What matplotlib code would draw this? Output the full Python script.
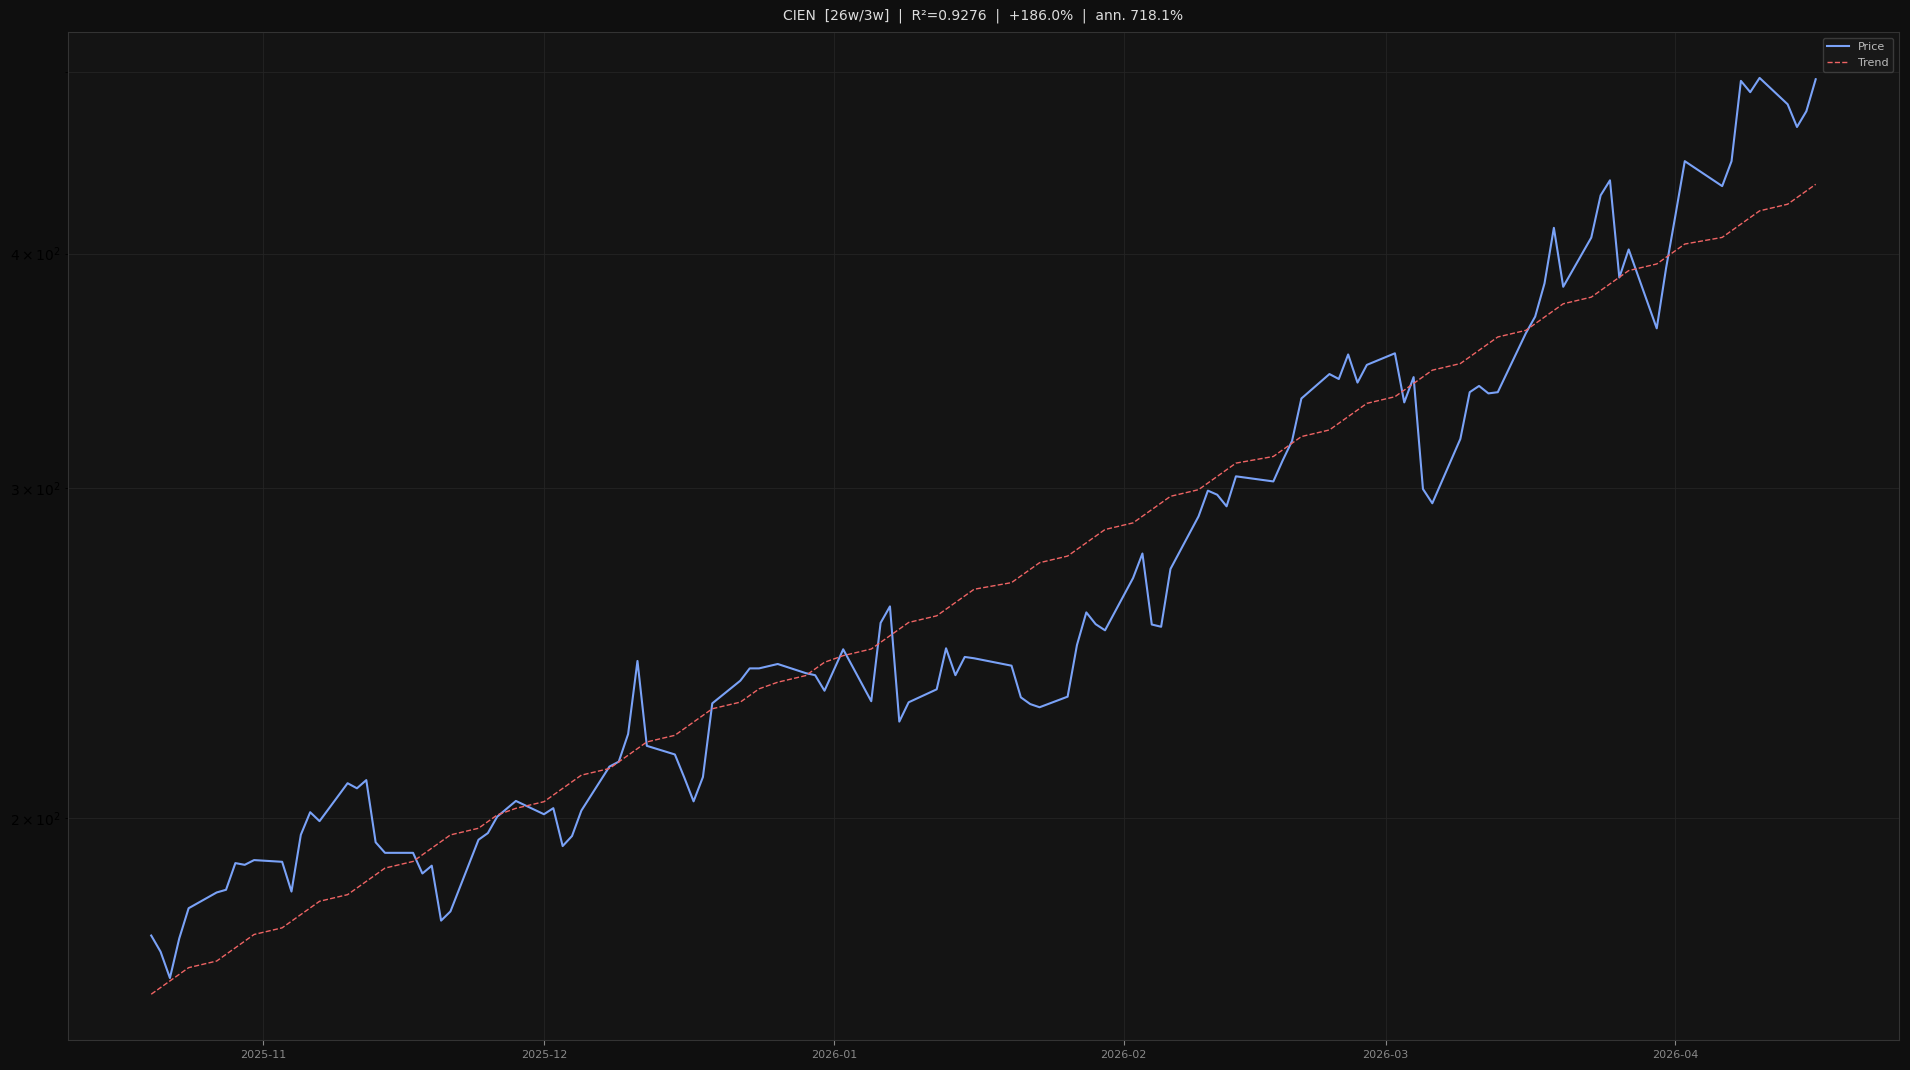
import numpy as np
import pandas as pd
import matplotlib
matplotlib.use('Agg')
import matplotlib.pyplot as plt

# trading calendar (US market holidays removed)
holidays = ['2025-11-27', '2025-12-25', '2026-01-01', '2026-01-19',
            '2026-02-16', '2026-04-03']
dates = pd.bdate_range('2025-10-20', '2026-04-16', freq='C', holidays=holidays)

# closing prices, one list per month
oct_px = [173.2, 169.8, 164.4, 172.6, 179.1, 182.6, 183.2, 189.3, 188.9, 190.0]
nov_px = [189.6, 182.8, 196.0, 201.5, 199.3, 208.8, 207.5, 209.6, 194.2, 191.7,
          191.7, 186.9, 188.7, 176.4, 178.4, 194.8, 196.4, 200.4, 204.3]
dec_px = [201.0, 202.5, 193.3, 195.7, 201.9, 213.1, 214.4, 221.8, 242.6, 218.6,
          216.3, 210.3, 204.2, 210.4, 230.3, 236.8, 240.4, 240.4, 241.7, 239.0,
          238.4, 233.9]
jan_px = [246.1, 230.9, 254.2, 259.4, 225.2, 230.6, 234.3, 246.4, 238.4, 243.8,
          243.4, 241.2, 232.0, 230.1, 229.2, 232.2, 247.4, 257.5, 253.8, 251.9]
feb_px = [268.6, 276.8, 253.7, 253.0, 271.6, 289.7, 299.0, 297.5, 293.3, 304.3,
          302.4, 310.3, 317.8, 334.8, 345.0, 342.9, 353.4, 341.4, 348.9]
mar_px = [353.9, 333.2, 343.7, 299.6, 294.4, 318.6, 337.4, 340.0, 336.9, 337.4,
          362.7, 370.2, 385.6, 412.8, 384.0, 407.9, 429.6, 437.6, 388.4, 402.0,
          364.9, 392.9]
apr_px = [419.2, 448.0, 434.5, 448.0, 494.4, 487.6, 496.2, 480.4, 467.2, 476.3,
          495.4]

price = np.array(oct_px + nov_px + dec_px + jan_px + feb_px + mar_px + apr_px)

title = 'CIEN  [26w/3w]  |  R\u00b2=0.9276  |  +186.0%  |  ann. 718.1%'

# log-linear trend on the trading day index
idx = np.arange(len(price))
slope, icpt = np.polyfit(idx, np.log(price), 1)
trend = np.exp(icpt + slope * idx)

fig = plt.figure(figsize=(19.1, 10.7), dpi=100, facecolor='#0f0f0f')
ax = fig.add_axes([0.0356, 0.028, 0.9586, 0.942])
ax.set_facecolor('#141414')

ax.plot(dates, price, color='#7aa2f7', lw=1.5, label='Price')
ax.plot(dates, trend, color='#ef6464', lw=1.0, ls='--', label='Trend')
ax.set_yscale('log')

ax.set_title(title, color='#dddddd', fontsize=10, pad=9)
ax.grid(True, which='both', color='#242424', lw=0.6)
ax.tick_params(colors='#888888', labelsize=8)
for sp in ax.spines.values():
    sp.set_color('#333333')

leg = ax.legend(loc='upper right', fontsize=8, facecolor='#1a1a1a',
                edgecolor='#444444', labelcolor='#bbbbbb')

fig.savefig('out.png', dpi=100, facecolor=fig.get_facecolor())
